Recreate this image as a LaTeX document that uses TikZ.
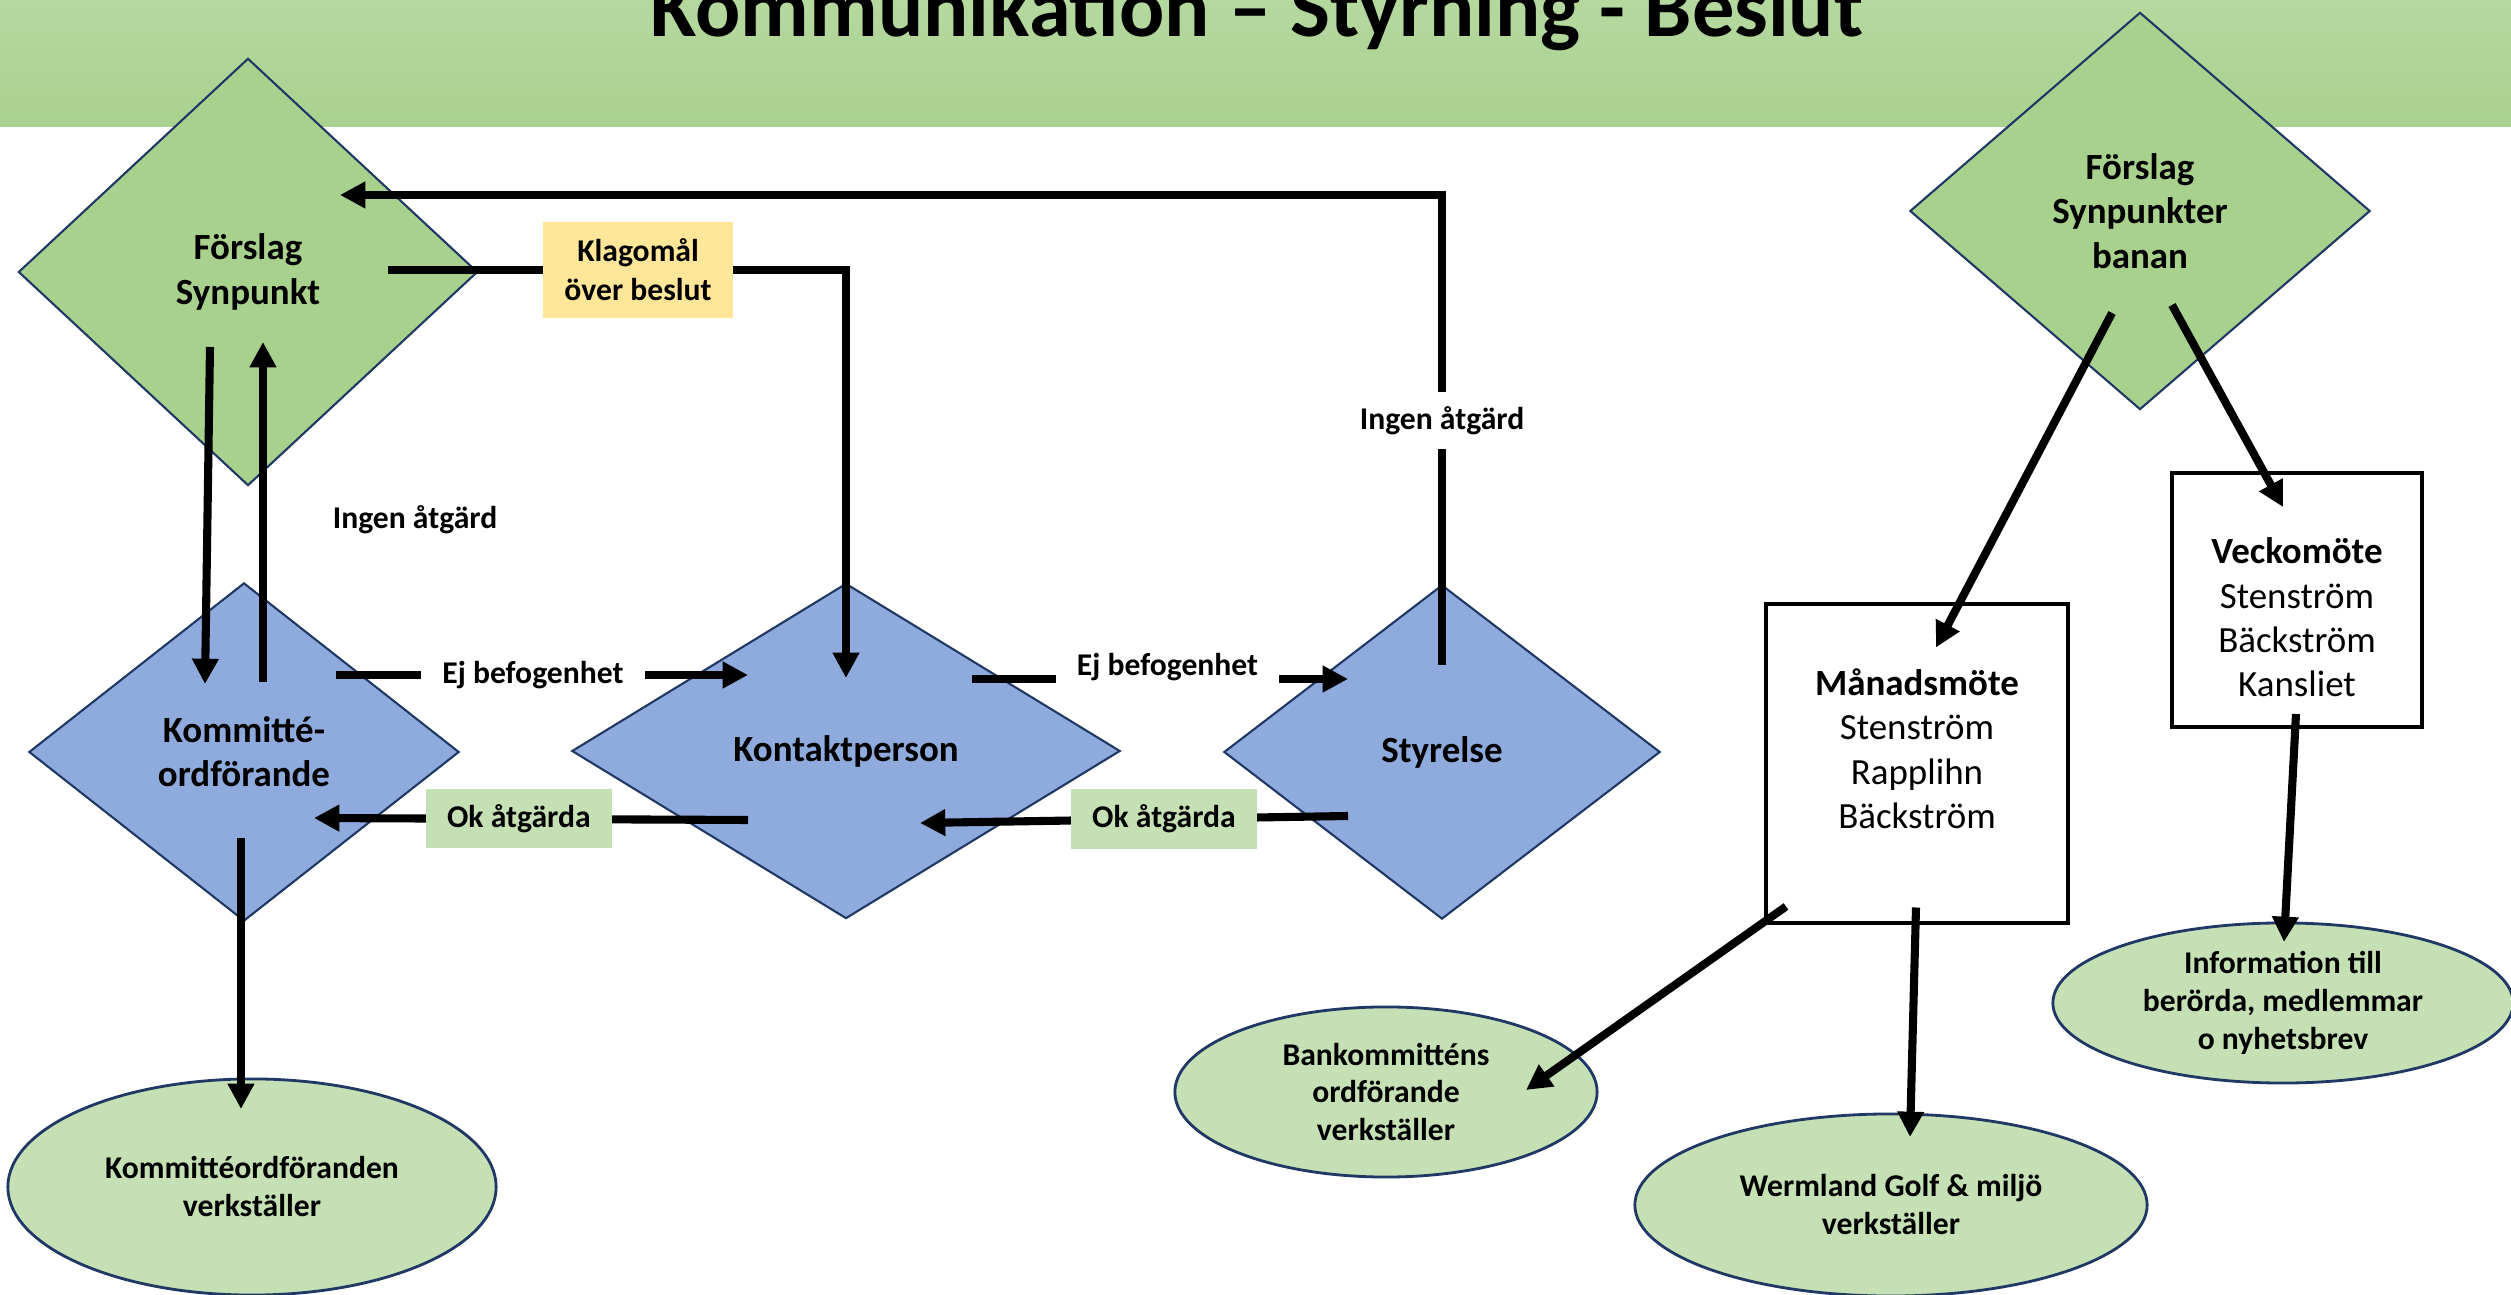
\documentclass[tikz,border=0pt]{standalone}
\usepackage{fontspec}
\setmainfont{Carlito}
\usetikzlibrary{shapes.geometric,arrows.meta,positioning}
\definecolor{bandtop}{HTML}{B5D89F}
\definecolor{bandbot}{HTML}{A9D18E}
\definecolor{grn}{HTML}{A9D18E}
\definecolor{blu}{HTML}{8FAADC}
\definecolor{navy}{HTML}{203864}
\definecolor{lgrn}{HTML}{C5E0B4}
\definecolor{ylw}{HTML}{FFE699}
\begin{document}
\begin{tikzpicture}[x=0.01cm, y=-0.01cm,
    ruta/.style={diamond, draw=navy, line width=0.6pt, inner sep=0pt, align=center,
      font=\fontsize{10.5}{12.6}\selectfont\bfseries},
    grupp/.style={ruta, fill=grn},
    organ/.style={ruta, fill=blu},
    utfall/.style={ellipse, draw=navy, line width=0.8pt, fill=lgrn, inner sep=0pt,
      align=center, font=\fontsize{9}{10.8}\selectfont\bfseries},
    mote/.style={rectangle, draw=black, line width=1pt, fill=white},
    motetext/.style={inner sep=0pt, align=center, font=\fontsize{10.5}{12.6}\selectfont},
    pil/.style={line width=2.3pt, -{Triangle[length=7.2pt,width=7.2pt]}},
    etikett/.style={fill=white, inner xsep=6pt, inner ysep=4pt,
      font=\fontsize{9}{11}\selectfont\bfseries},
    lapp/.style={inner sep=0pt, align=center, font=\fontsize{9}{11}\selectfont\bfseries}]
  \useasboundingbox (0,0) rectangle (2511,1295);
  \clip (0,0) rectangle (2511,1295);
  \shade[top color=bandtop, bottom color=bandbot] (0,0) rectangle (2511,127);
  \node[anchor=base, inner sep=0pt, font=\fontsize{24}{28}\selectfont\bfseries] (titel)
    at (1257,37) {Kommunikation – Styrning - Beslut};

  \node[grupp, minimum width=4.59cm, minimum height=4.27cm] (forslag) at (248,272) {Förslag\\Synpunkt};
  \node[grupp, minimum width=4.6cm, minimum height=3.97cm] (banan) at (2140,211) {Förslag\\Synpunkter\\banan};
  \node[organ, minimum width=4.3cm, minimum height=3.38cm] (kommitte) at (244,752) {Kommitté-\\ordförande};
  \node[organ, minimum width=5.48cm, minimum height=3.35cm] (kontakt) at (846,751) {Kontaktperson};
  \node[organ, minimum width=4.36cm, minimum height=3.34cm] (styrelse) at (1442,752) {Styrelse};

  \node[mote, minimum width=3.02cm, minimum height=3.19cm] (manad) at (1917,763.5) {};
  \node[motetext, below=0.66cm of manad.north] (manadtext) {\textbf{Månadsmöte}\\Stenström\\Rapplihn\\Bäckström};
  \node[mote, minimum width=2.5cm, minimum height=2.54cm] (vecko) at (2297,600) {};
  \node[motetext, below=0.66cm of vecko.north] (veckotext) {\textbf{Veckomöte}\\Stenström\\Bäckström\\Kansliet};

  \node[utfall, minimum width=4.88cm, minimum height=2.16cm] (kverk) at (252,1187) {Kommittéordföranden\\verkställer};
  \node[utfall, minimum width=4.22cm, minimum height=1.7cm] (bank) at (1386,1092) {Bankommitténs\\ordförande\\verkställer};
  \node[utfall, minimum width=5.12cm, minimum height=1.82cm] (wermland) at (1891,1205) {Wermland Golf \& miljö\\verkställer};
  \node[utfall, minimum width=4.6cm, minimum height=1.6cm] (info) at (2283,1003) {Information till\\berörda, medlemmar\\o nyhetsbrev};

  \node[lapp] (ingen) at (415,520) {Ingen åtgärd};

  \begin{scope}[pil]
    \draw ([shift={(0,-87)}]styrelse.center) |- node[etikett, pos=0.26] {Ingen åtgärd} ([shift={(92,-77)}]forslag.center);
    \draw ([shift={(140,-2)}]forslag.center) -| node[lapp, pos=0.273, fill=ylw, minimum width=1.9cm, minimum height=0.96cm] {Klagomål\\över beslut} ([shift={(0,-73)}]kontakt.center);
    \draw ([shift={(-38,75)}]forslag.center) -- ([shift={(-39,-68)}]kommitte.center);
    \draw ([shift={(19,-70)}]kommitte.center) -- ([shift={(15,70)}]forslag.center);
    \draw ([shift={(92,-77)}]kommitte.center) -- node[etikett, pos=0.478] {Ej befogenhet} ([shift={(-98,-76)}]kontakt.center);
    \draw ([shift={(126,-72)}]kontakt.center) -- node[etikett, pos=0.52, yshift=3.4pt] {Ej befogenhet} ([shift={(-94,-73)}]styrelse.center);
    \draw ([shift={(-94,64)}]styrelse.center) -- node[lapp, pos=0.43, fill=lgrn, minimum width=1.86cm, minimum height=0.59cm] {Ok åtgärda} ([shift={(74,72)}]kontakt.center);
    \draw ([shift={(-98,69)}]kontakt.center) -- node[lapp, pos=0.528, fill=lgrn, minimum width=1.86cm, minimum height=0.59cm] {Ok åtgärda} ([shift={(70,66)}]kommitte.center);
    \draw ([shift={(-3,86)}]kommitte.center) -- ([shift={(-11,-78)}]kverk.center);
    \draw ([shift={(-28,102)}]banan.center) -- ([shift={(19,-116)}]manad.center);
    \draw ([shift={(32,94)}]banan.center) -- ([shift={(-14,-93)}]vecko.center);
    \draw ([shift={(-131,143)}]manad.center) -- ([shift={(140,-2)}]bank.center);
    \draw ([shift={(-1,144)}]manad.center) -- ([shift={(19,-68)}]wermland.center);
    \draw ([shift={(-1,114)}]vecko.center) -- ([shift={(1,-61)}]info.center);
  \end{scope}
\end{tikzpicture}
\end{document}
